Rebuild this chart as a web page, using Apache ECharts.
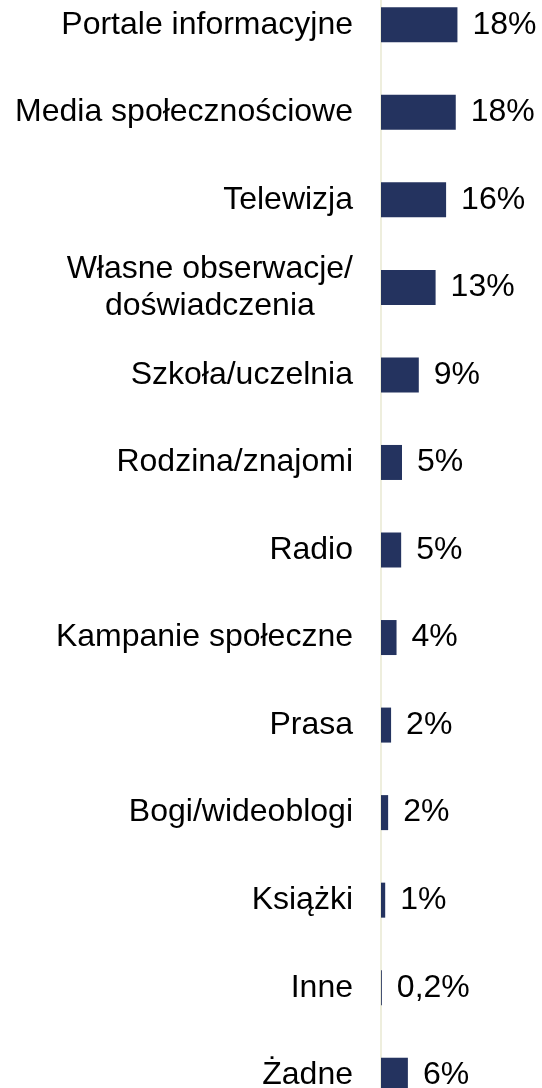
<!DOCTYPE html>
<html>
<head>
<meta charset="utf-8">
<script src="https://cdn.jsdelivr.net/npm/echarts@6/dist/echarts.min.js"></script>
<style>
  html, body { margin: 0; padding: 0; background: #fff; overflow: hidden; width: 542px; height: 1088px; }
  /* ostatni słupek jest w oryginale ucięty u dołu, więc płótno wychodzi poza okno */
  #chart { position: absolute; left: 0; top: -19px; width: 542px; height: 1138px; }
</style>
</head>
<body>
<div id="chart"></div>
<script>
// kategorie (od góry)
const categories = [
  "Portale informacyjne",
  "Media społecznościowe",
  "Telewizja",
  "Własne obserwacje/\ndoświadczenia",
  "Szkoła/uczelnia",
  "Rodzina/znajomi",
  "Radio",
  "Kampanie społeczne",
  "Prasa",
  "Bogi/wideoblogi",
  "Książki",
  "Inne",
  "Żadne"
];
const values = [18.2, 17.8, 15.5, 13.0, 9.0, 5.0, 4.8, 3.7, 2.4, 1.7, 1.0, 0.2, 6.4];
// etykiety wartości
const valueLabels = ["18%", "18%", "16%", "13%", "9%", "5%", "5%", "4%", "2%", "2%", "1%", "0,2%", "6%"];

const myChart = echarts.init(document.getElementById("chart"));
const font = "'Liberation Sans', Arial, sans-serif";

const option = {
  animation: false,
  grid: { left: 381, top: 0, width: 126, bottom: 0 },
  xAxis: {
    type: "value",
    min: 0,
    max: 30,
    show: false
  },
  yAxis: {
    type: "category",
    inverse: true,
    data: categories,
    axisLine: { show: true, lineStyle: { color: "#eeeedd", width: 2 } },
    axisTick: { show: false },
    axisLabel: {
      margin: 28,
      fontFamily: font,
      fontSize: 32,
      color: "#000",
      lineHeight: 37,
      // wieloliniowe etykiety wyśrodkowane
      formatter: function (value) {
        return value.split("\n").map(function (s) { return "{c|" + s + "}"; }).join("\n");
      },
      rich: {
        c: { align: "center", fontFamily: font, fontSize: 32, color: "#000", lineHeight: 37 }
      }
    }
  },
  series: [
    {
      type: "bar",
      data: values,
      barWidth: 35,
      itemStyle: { color: "#24335f" },
      label: {
        show: true,
        position: "right",
        distance: 15,
        fontFamily: font,
        fontSize: 32,
        color: "#000",
        formatter: function (p) { return valueLabels[p.dataIndex]; }
      }
    }
  ]
};
myChart.setOption(option);
</script>
</body>
</html>
